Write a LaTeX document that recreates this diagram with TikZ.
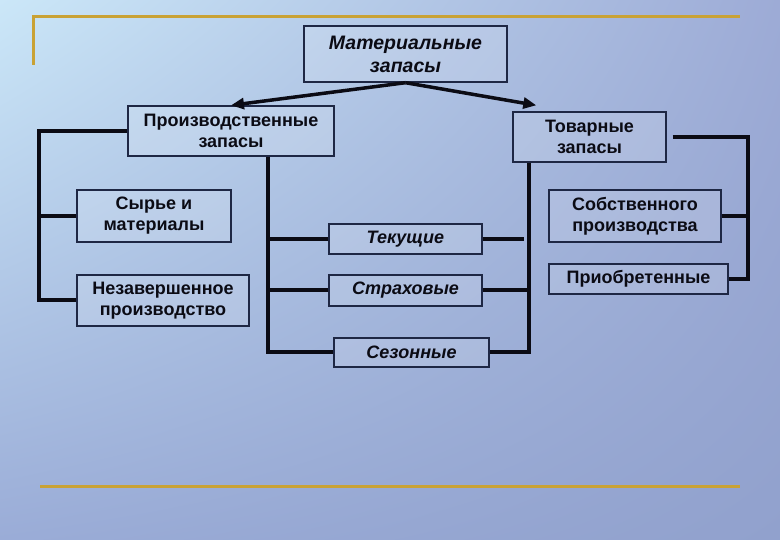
\documentclass[tikz,border=0pt]{standalone}
\usepackage{fontspec}
\setmainfont{Liberation Sans}
\usepackage{tikz}
\usepackage{xcolor}
\usetikzlibrary{arrows.meta,positioning,calc,shadings}
\definecolor{bgul}{HTML}{CBE7F8}
\definecolor{bgur}{HTML}{9DABD6}
\definecolor{bgll}{HTML}{9AACD7}
\definecolor{bglr}{HTML}{91A1CD}
\definecolor{gold}{HTML}{C9A235}
\definecolor{frame}{HTML}{1E2744}
\definecolor{ink}{HTML}{0B0B14}
\tikzset{
  box/.style={draw=frame, fill=white, fill opacity=0.14, text opacity=1,
              line width=1.4pt, align=center, inner sep=0pt, text=ink,
              font=\fontsize{18}{21}\selectfont\bfseries},
  kind/.style={box, font=\fontsize{18}{22}\selectfont\bfseries\itshape},
  link/.style={line width=4pt, draw=ink},
  arrow/.style={-{Triangle[length=13pt,width=11pt]}, line width=3.5pt, draw=ink},
  rule/.style={draw=gold, line width=3pt}
}
\begin{document}
\begin{tikzpicture}[x=1pt,y=-1pt]
        \shade[upper left=bgul,upper right=bgur,lower left=bgll,lower right=bglr] (0,0) rectangle (780,540);
        \useasboundingbox (0,0) rectangle (780,540);

        % slide rules
        \draw[rule] (33,65) -- (33,17) -- (740,17);
        \draw[rule] (40,486) -- (740,486);

        \node[kind,minimum width=203pt,minimum height=56pt,font=\fontsize{19.5}{23}\selectfont\bfseries\itshape] (mat) at (405.5,54) {Материальные\\запасы};
        \node[box,minimum width=206pt,minimum height=50pt] (proizv) at (231,131) {Производственные\\запасы};
        \node[box,minimum width=153pt,minimum height=50pt] (tovar) at (589.5,137) {Товарные\\запасы};

        \node[box,minimum width=154pt,minimum height=52pt] (syrie) at (154,216) {Сырье и\\материалы};
        \node[box,minimum width=172pt,minimum height=51pt] (nezav) at (163,300.5) {Незавершенное\\производство};

        \node[kind,minimum width=153pt,minimum height=30pt] (tek) at (405.5,239) {Текущие};
        \node[kind,minimum width=153pt,minimum height=31pt] (strah) at (405.5,290.5) {Страховые};
        \node[kind,minimum width=155pt,minimum height=29pt] (sez) at (411.5,352.5) {Сезонные};

        \node[box,minimum width=172pt,minimum height=52pt] (sobstv) at (635,216) {Собственного\\производства};
        \node[box,minimum width=179pt,minimum height=30pt] (priobr) at (638.5,279) {Приобретенные};

        \draw[arrow] (mat.south) -- (proizv.north);
        \draw[arrow] (mat.south) -- ([xshift=24pt,yshift=6pt]tovar.north west);

        % production stock: left bracket
        \draw[link] (proizv.west) -- ++(-88,0) |- (nezav.west);
        \draw[link] (syrie.west) -- ++(-37,0);

        % purpose groups between the two branches
        \coordinate (pdown) at ([xshift=-67pt]proizv.south east);
        \coordinate (tdown) at ([xshift=17pt]tovar.south west);
        \draw[link] (pdown) |- (sez.west);
        \draw[link] (tek.west) -- (tek.west -| pdown);
        \draw[link] (strah.west) -- (strah.west -| pdown);
        \draw[link] (tdown) |- (sez.east);
        \draw[link] (strah.east) -- (strah.east -| tdown);
        \draw[link] (tek.east) -- ([xshift=-5pt]tek.east -| tdown);

        % goods stock: right bracket
        \draw[link] ([xshift=6pt]tovar.east) -- ++(75,0) |- (priobr.east);
        \draw[link] (sobstv.east) -- ++(26,0);
      \end{tikzpicture}
\end{document}
